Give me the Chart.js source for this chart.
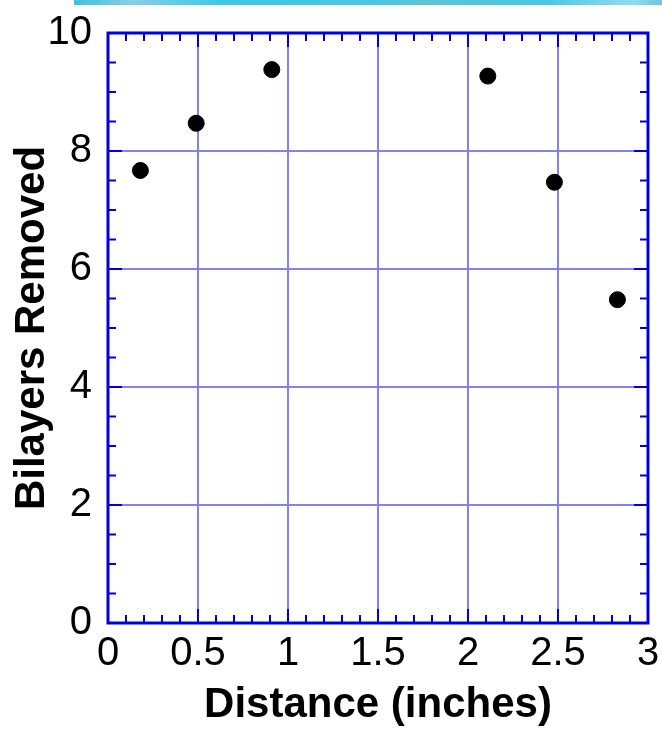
<!DOCTYPE html>
<html>
<head>
<meta charset="utf-8">
<title>Bilayers Removed vs Distance</title>
<script src="https://cdn.jsdelivr.net/npm/chart.js@4/dist/chart.umd.min.js"></script>
<style>
  html, body { margin: 0; padding: 0; background: #fff; }
  #wrap { position: relative; width: 662px; height: 729px; }
  #stripe {
    position: absolute; left: 74px; top: 0; width: 588px; height: 5px;
    background: linear-gradient(90deg, #3fc3dc, #86cfe6 10%, #3cc8e6 25%, #48c6e4 50%, #5bc4d4 60%, #45c8e6 80%, #8fdcf0 95%, #6cc8d8);
  }
</style>
</head>
<body>
<div id="wrap">
  <canvas id="chart" width="662" height="729"></canvas>
  <div id="stripe"></div>
</div>
<script>
// Data
const distance = [0.18, 0.49, 0.91, 2.11, 2.48, 2.83];
const bilayers = [7.67, 8.47, 9.38, 9.27, 7.47, 5.48];

const xTitle = 'Distance (inches)';
const yTitle = 'Bilayers Removed';

const AXIS_BLUE = '#0000dd';
const GRID_BLUE = '#8282ee';
const FONT = '"Liberation Sans", Arial, sans-serif';

// inward major/minor ticks on all four sides + frame
const frameTicks = {
    id: 'frameTicks',
    afterDraw(chart) {
        const { ctx, chartArea: a, scales: { x, y } } = chart;
        ctx.save();
        ctx.strokeStyle = AXIS_BLUE;
        ctx.lineWidth = 2;
        ctx.beginPath();
        for (let k = 0; k <= 30; k++) {
            const px = x.getPixelForValue(k / 10);
            const len = k % 5 === 0 ? 14 : 8;
            ctx.moveTo(px, a.bottom); ctx.lineTo(px, a.bottom - len);
            ctx.moveTo(px, a.top); ctx.lineTo(px, a.top + len);
        }
        for (let k = 0; k <= 20; k++) {
            const py = y.getPixelForValue(k * 0.5);
            const len = k % 4 === 0 ? 14 : 8;
            ctx.moveTo(a.left, py); ctx.lineTo(a.left + len, py);
            ctx.moveTo(a.right, py); ctx.lineTo(a.right - len, py);
        }
        ctx.stroke();
        ctx.lineWidth = 3;
        ctx.strokeRect(a.left, a.top, a.right - a.left, a.bottom - a.top);
        ctx.restore();
    }
};

// fixed box sizes so the plot frame lands where the reference has it
function fixBox(size, key) {
    return s => {
        s[key] = size;
        s.paddingLeft = s.paddingRight = s.paddingTop = s.paddingBottom = 0;
    };
}

const ctx = document.getElementById('chart').getContext('2d');
new Chart(ctx, {
    type: 'scatter',
    data: {
        datasets: [{
            label: yTitle,
            data: distance.map((d, i) => ({ x: d, y: bilayers[i] })),
            backgroundColor: '#000',
            borderColor: '#000',
            pointRadius: 8,
            pointHoverRadius: 8
        }]
    },
    options: {
        responsive: false,
        animation: false,
        layout: { padding: { left: 11, top: 33, right: 14, bottom: 3 } },
        plugins: {
            legend: { display: false },
            tooltip: { enabled: false }
        },
        scales: {
            x: {
                type: 'linear',
                min: 0, max: 3,
                afterFit: fixBox(103, 'height'),
                ticks: {
                    stepSize: 0.5,
                    padding: 7,
                    color: '#000',
                    font: { family: FONT, size: 40 },
                    callback: v => String(v)
                },
                grid: {
                    color: c => (c.tick && (c.tick.value === 0 || c.tick.value === 3)) ? 'rgba(0,0,0,0)' : GRID_BLUE,
                    lineWidth: 2,
                    drawTicks: false
                },
                border: { display: false },
                title: {
                    display: true,
                    text: xTitle,
                    color: '#000',
                    padding: 0,
                    font: { family: FONT, size: 42, weight: 'bold', lineHeight: 1 }
                }
            },
            y: {
                type: 'linear',
                min: 0, max: 10,
                afterFit: fixBox(97, 'width'),
                ticks: {
                    stepSize: 2,
                    padding: 16,
                    color: '#000',
                    font: { family: FONT, size: 40 },
                    callback: v => String(v)
                },
                grid: {
                    color: c => (c.tick && (c.tick.value === 0 || c.tick.value === 10)) ? 'rgba(0,0,0,0)' : GRID_BLUE,
                    lineWidth: 2,
                    drawTicks: false
                },
                border: { display: false },
                title: {
                    display: true,
                    text: yTitle,
                    color: '#000',
                    padding: 0,
                    font: { family: FONT, size: 42, weight: 'bold', lineHeight: 1 }
                }
            }
        }
    },
    plugins: [frameTicks]
});
</script>
</body>
</html>
